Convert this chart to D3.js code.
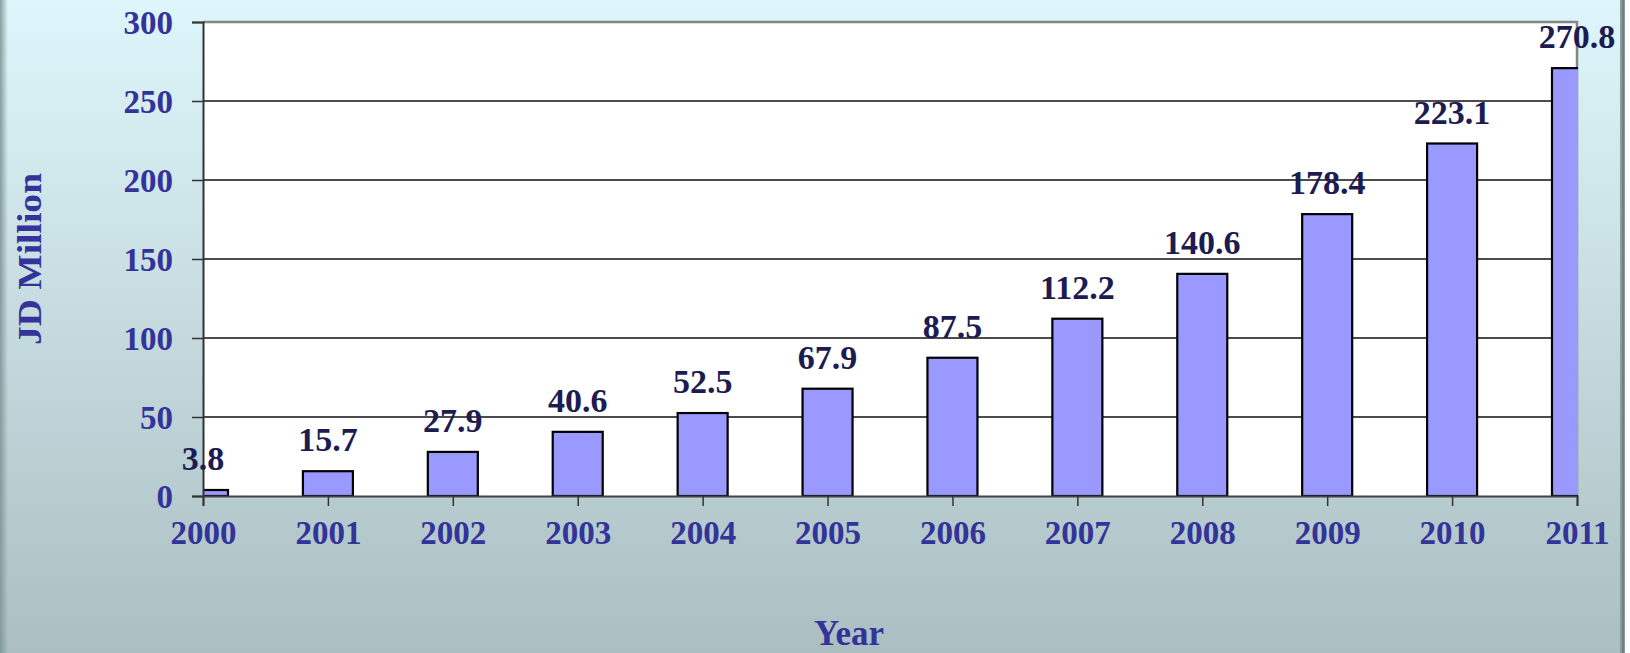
<!DOCTYPE html>
<html lang="en">
<head>
    <meta charset="UTF-8">
    <title>JD Million by Year</title>
    <script src="https://d3js.org/d3.v7.min.js"></script>
    <style>
        body {
            margin: 0;
            padding: 0;
            background: #fff;
        }
        svg text {
            font-family: "Liberation Serif", "Times New Roman", serif;
            font-weight: bold;
        }
    </style>
</head>
<body>
    <svg id="chart" width="1630" height="653"></svg>
    <script>
        const years = ["2000", "2001", "2002", "2003", "2004", "2005",
                       "2006", "2007", "2008", "2009", "2010", "2011"];
        const values = [3.8, 15.7, 27.9, 40.6, 52.5, 67.9, 87.5, 112.2, 140.6, 178.4, 223.1, 270.8];
        const yTicks = [0, 50, 100, 150, 200, 250, 300];

        const margin = { top: 22, right: 53, bottom: 157, left: 203 };
        const W = 1630, H = 653;
        const width = W - margin.left - margin.right;
        const height = H - margin.top - margin.bottom;

        const svg = d3.select("#chart");

        // background gradient
        const defs = svg.append("defs");
        const grad = defs.append("linearGradient")
            .attr("id", "bg").attr("x1", 0).attr("y1", 0).attr("x2", 0).attr("y2", 1);
        grad.append("stop").attr("offset", "0%").attr("stop-color", "#def6fb");
        grad.append("stop").attr("offset", "100%").attr("stop-color", "#abbfc2");

        const shade = defs.append("linearGradient")
            .attr("id", "edge").attr("x1", 0).attr("y1", 0).attr("x2", 1).attr("y2", 0);
        shade.append("stop").attr("offset", "0%").attr("stop-color", "#7f9598").attr("stop-opacity", 0.9);
        shade.append("stop").attr("offset", "100%").attr("stop-color", "#7f9598").attr("stop-opacity", 0);

        svg.append("rect").attr("width", 1625).attr("height", H).attr("fill", "url(#bg)");
        svg.append("rect").attr("width", 8).attr("height", H).attr("fill", "url(#edge)");
        svg.append("rect").attr("x", 1620).attr("width", 5).attr("height", H).attr("fill", "#8a9c9e");
        svg.append("rect").attr("x", 1622).attr("width", 2).attr("height", H).attr("fill", "#6f8082");

        defs.append("clipPath").attr("id", "plotclip")
            .append("rect").attr("width", width + 1).attr("height", height + 2).attr("y", -1);

        const g = svg.append("g").attr("transform", `translate(${margin.left},${margin.top})`);

        const x = d3.scalePoint().domain(years).range([0, width]);
        const y = d3.scaleLinear().domain([0, 300]).range([height, 0]);
        const barW = 50;

        // plot area
        g.append("rect").attr("width", width).attr("height", height).attr("fill", "#fff");

        // gridlines
        g.selectAll("line.grid")
            .data(yTicks.filter(t => t > 0 && t < 300))
            .join("line")
            .attr("class", "grid")
            .attr("x1", 0).attr("x2", width)
            .attr("y1", d => y(d)).attr("y2", d => y(d))
            .attr("stroke", "#111").attr("stroke-width", 1.5);

        // top and right border
        g.append("path")
            .attr("d", `M0,${y(300)}H${width}V${height}`)
            .attr("fill", "none").attr("stroke", "#858585").attr("stroke-width", 2.5);

        // bars
        g.append("g").attr("clip-path", "url(#plotclip)")
            .selectAll("rect")
            .data(values)
            .join("rect")
            .attr("x", (d, i) => x(years[i]) - barW / 2)
            .attr("y", d => y(d))
            .attr("width", barW)
            .attr("height", d => y(0) - y(d))
            .attr("fill", "#9999ff")
            .attr("stroke", "#000")
            .attr("stroke-width", 2.2);

        // axes
        const yAxis = g.append("g")
            .call(d3.axisLeft(y).tickValues(yTicks).tickSize(11).tickPadding(19));
        yAxis.select(".domain").attr("stroke", "#333").attr("stroke-width", 2);
        yAxis.selectAll(".tick line").attr("stroke", "#333").attr("stroke-width", 1.5);
        yAxis.selectAll(".tick text")
            .attr("fill", "#333399").attr("font-size", 33).attr("dy", "0.34em");

        const xAxis = g.append("g").attr("transform", `translate(0,${height})`)
            .call(d3.axisBottom(x).tickSize(10).tickPadding(15));
        xAxis.select(".domain").attr("stroke", "#444").attr("stroke-width", 2);
        xAxis.selectAll(".tick line").attr("stroke", "#333").attr("stroke-width", 1.5);
        xAxis.selectAll(".tick text")
            .attr("fill", "#333399").attr("font-size", 33).attr("dy", "0.71em");

        // value labels
        g.selectAll("text.val")
            .data(values)
            .join("text")
            .attr("class", "val")
            .attr("x", (d, i) => x(years[i]))
            .attr("y", d => y(d) - 20)
            .attr("text-anchor", "middle")
            .attr("fill", "#1c1c52")
            .attr("font-size", 34)
            .text(d => d.toFixed(1));

        // axis titles
        svg.append("text")
            .attr("transform", "translate(41,259) rotate(-90)")
            .attr("text-anchor", "middle")
            .attr("fill", "#333399")
            .attr("font-size", 34)
            .attr("textLength", 172)
            .attr("lengthAdjust", "spacingAndGlyphs")
            .text("JD Million");

        svg.append("text")
            .attr("x", 849).attr("y", 645)
            .attr("text-anchor", "middle")
            .attr("fill", "#333399")
            .attr("font-size", 35)
            .text("Year");
    </script>
</body>
</html>
